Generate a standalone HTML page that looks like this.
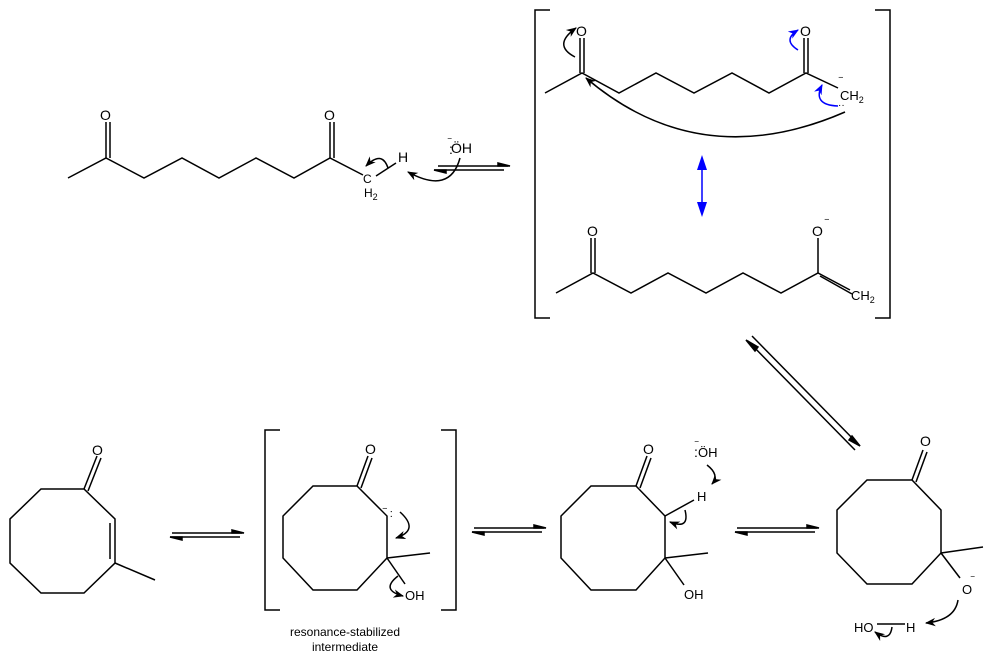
<!DOCTYPE html>
<html><head><meta charset="utf-8"><style>body{margin:0;background:#fff}svg{display:block}</style></head><body>
<svg width="1000" height="663" viewBox="0 0 1000 663" xmlns="http://www.w3.org/2000/svg" font-family="Liberation Sans, sans-serif" font-size="14">
<defs>
<marker id="ah" viewBox="0 0 10 10" refX="9" refY="5" markerWidth="7" markerHeight="7" orient="auto"><path d="M0,1 L10,5 L0,9 L3,5z" fill="#000"/></marker>
<marker id="ab" viewBox="0 0 10 10" refX="9" refY="5" markerWidth="7" markerHeight="7" orient="auto"><path d="M0,1 L10,5 L0,9 L3,5z" fill="#00f"/></marker>
</defs>
<g stroke="#000" stroke-width="1.5" fill="none">
<!-- top-left chain -->
<polyline points="68,178 106,158 144,178 182,158 219,178 256,158 294,178 330,158 363,175"/>
<line x1="106" y1="158" x2="106" y2="122"/><line x1="110" y1="158" x2="110" y2="122"/>
<line x1="330" y1="158" x2="330" y2="122"/><line x1="334" y1="158" x2="334" y2="122"/>
<line x1="376" y1="176" x2="396" y2="163"/>
<path d="M388,168 Q382,150 366,166" marker-end="url(#ah)"/>
<path d="M460,158 Q450,195 408,172" marker-end="url(#ah)"/>
<!-- eq arrows top -->
<line x1="438" y1="166" x2="508" y2="166"/><path d="M498,163 L510,166 L498,166z" fill="#000"/>
<line x1="434" y1="170" x2="504" y2="170"/><path d="M446,173 L434,170 L446,170z" fill="#000"/>
<!-- brackets top -->
<polyline points="550,10 535,10 535,318 550,318"/>
<polyline points="875,10 890,10 890,318 875,318"/>
<!-- structure 1 -->
<polyline points="545,93 582,73 619,93 656,73 694,93 732,73 769,93 806,73 838,88"/>
<line x1="580" y1="73" x2="580" y2="38"/><line x1="584" y1="73" x2="584" y2="38"/>
<line x1="804" y1="73" x2="804" y2="38"/><line x1="808" y1="73" x2="808" y2="38"/>
<path d="M575,57 Q552,45 576,28" marker-end="url(#ah)"/>
<path d="M845,112 Q700,175 586,78" marker-end="url(#ah)"/>
</g>
<g stroke="#00f" stroke-width="1.5" fill="none">
<path d="M798,50 Q782,40 798,30" marker-end="url(#ab)"/>
<path d="M838,106 Q812,105 822,85" marker-end="url(#ab)"/>
<line x1="702" y1="162" x2="702" y2="210"/>
</g>
<path d="M702,155 L697,170 L707,170z M702,217 L697,202 L707,202z" fill="#00f"/>
<g stroke="#000" stroke-width="1.5" fill="none">
<!-- structure 2 -->
<polyline points="556,293 593,273 631,293 668,273 706,293 743,273 781,293 818,273 850,290"/>
<line x1="820" y1="276" x2="852" y2="294"/>
<line x1="591" y1="273" x2="591" y2="238"/><line x1="595" y1="273" x2="595" y2="238"/>
<line x1="818" y1="273" x2="818" y2="238"/>
<!-- diagonal eq -->
<line x1="752" y1="336" x2="860" y2="446"/><path d="M852,436 L860,446 L849,440z" fill="#000"/>
<line x1="748" y1="341" x2="855" y2="450"/><path d="M755,351 L746,340 L758,347z" fill="#000"/>
<!-- ring 1 -->
<polygon points="41,489 84,489 115,519 115,563 84,593 41,593 10,563 10,519"/>
<line x1="110" y1="523" x2="110" y2="559"/>
<line x1="84" y1="489" x2="97" y2="456"/><line x1="88" y1="491" x2="101" y2="458"/>
<line x1="115" y1="563" x2="155" y2="580"/>
<!-- eq 1 -->
<line x1="172" y1="533" x2="242" y2="533"/><path d="M232,530 L244,533 L232,533z" fill="#000"/>
<line x1="170" y1="537" x2="240" y2="537"/><path d="M182,540 L170,537 L182,537z" fill="#000"/>
<!-- bracket bottom -->
<polyline points="280,430 265,430 265,610 280,610"/>
<polyline points="441,430 456,430 456,610 441,610"/>
<!-- ring 2 -->
<polygon points="313,486 357,486 387,516 387,558 357,590 313,590 283,558 283,516"/>
<line x1="357" y1="486" x2="368" y2="456"/><line x1="361" y1="488" x2="372" y2="458"/>
<line x1="387" y1="558" x2="430" y2="553"/>
<line x1="387" y1="558" x2="405" y2="584"/>
<path d="M400,512 Q420,530 396,538" marker-end="url(#ah)"/>
<path d="M398,576 Q380,590 403,596" marker-end="url(#ah)"/>
<!-- eq 2 -->
<line x1="474" y1="528" x2="544" y2="528"/><path d="M534,525 L546,528 L534,528z" fill="#000"/>
<line x1="472" y1="532" x2="542" y2="532"/><path d="M484,535 L472,532 L484,532z" fill="#000"/>
<!-- ring 3 -->
<polygon points="591,486 636,486 665,516 665,558 636,590 591,590 561,558 561,516"/>
<line x1="636" y1="486" x2="647" y2="456"/><line x1="640" y1="488" x2="651" y2="458"/>
<line x1="665" y1="558" x2="708" y2="553"/>
<line x1="665" y1="558" x2="684" y2="585"/>
<line x1="665" y1="516" x2="694" y2="500"/>
<path d="M707,465 Q720,475 712,484" marker-end="url(#ah)"/>
<path d="M685,510 Q690,530 670,522" marker-end="url(#ah)"/>
<!-- eq 3 -->
<line x1="737" y1="528" x2="817" y2="528"/><path d="M807,525 L819,528 L807,528z" fill="#000"/>
<line x1="735" y1="532" x2="815" y2="532"/><path d="M747,535 L735,532 L747,532z" fill="#000"/>
<!-- ring 4 -->
<polygon points="867,480 912,480 941,510 941,553 912,584 867,584 837,553 837,510"/>
<line x1="912" y1="480" x2="923" y2="450"/><line x1="916" y1="482" x2="927" y2="452"/>
<line x1="941" y1="553" x2="983" y2="547"/>
<line x1="941" y1="553" x2="960" y2="578"/>
<path d="M958,600 Q955,620 926,623" marker-end="url(#ah)"/>
<line x1="877" y1="624" x2="905" y2="624"/>
<path d="M892,627 Q890,643 875,632" marker-end="url(#ah)"/>
</g>
<g fill="#000">
<text x="100" y="120">O</text><text x="324" y="120">O</text>
<text x="363" y="183" font-size="12">C</text><text x="364" y="197" font-size="12">H<tspan font-size="9" dy="3">2</tspan></text>
<text x="398" y="162">H</text>
<text x="451" y="153">ÖH</text><text x="448" y="146" font-size="10">‾</text><text x="449" y="154">:</text>
<text x="576" y="36">O</text><text x="800" y="36">O</text>
<text x="840" y="100" font-size="13">CH<tspan font-size="9" dy="3">2</tspan></text><text x="839" y="86" font-size="11">‾</text><text x="838" y="108" font-size="10">··</text>
<text x="587" y="236">O</text><text x="812" y="236">O</text><text x="825" y="228" font-size="11">‾</text>
<text x="851" y="300" font-size="13">CH<tspan font-size="9" dy="3">2</tspan></text>
<text x="92" y="455">O</text>
<text x="365" y="454">O</text><text x="383" y="517" font-size="11">‾ :</text>
<text x="405" y="600" font-size="13">OH</text>
<text x="345" y="636" font-size="12" text-anchor="middle">resonance-stabilized</text>
<text x="345" y="651" font-size="12" text-anchor="middle">intermediate</text>
<text x="643" y="454">O</text>
<text x="698" y="457" font-size="13">ÖH</text><text x="694" y="457">:</text><text x="695" y="449" font-size="10">‾</text>
<text x="697" y="501" font-size="13">H</text>
<text x="684" y="599" font-size="13">OH</text>
<text x="920" y="446">O</text>
<text x="962" y="594" font-size="13">O</text><text x="971" y="584" font-size="10">‾</text>
<text x="854" y="632" font-size="13">HO</text><text x="906" y="632" font-size="13">H</text>
</g>
</svg>
</body></html>
